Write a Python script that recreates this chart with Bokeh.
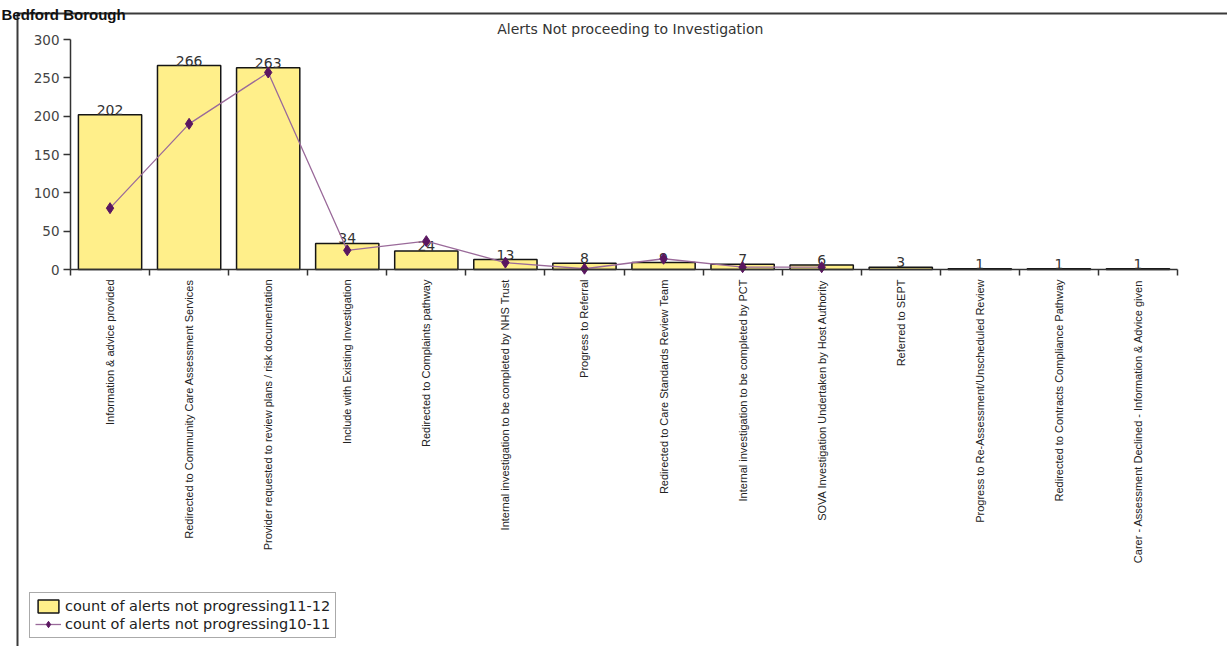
from math import pi
from bokeh.plotting import figure
from bokeh.models import Range1d, FixedTicker, Legend, LegendItem, Label, BoxAnnotation
from bokeh.core.properties import value
from bokeh.embed import file_html
from bokeh.resources import INLINE

categories = [
    "Information & advice provided",
    "Redirected to Community Care Assessment Services",
    "Provider requested to review plans / risk documentation",
    "Include with Existing Investigation",
    "Redirected to Complaints pathway",
    "Internal investigation to be completed by NHS Trust",
    "Progress to Referral",
    "Redirected to Care Standards Review Team",
    "Internal investigation to be completed by PCT",
    "SOVA Investigation Undertaken by Host Authority",
    "Referred to SEPT",
    "Progress to Re-Assessment/Unscheduled Review",
    "Redirected to Contracts Compliance Pathway",
    "Carer - Assessment Declined - Information & Advice given",
]
alerts_11_12 = [202, 266, 263, 34, 24, 13, 8, 9, 7, 6, 3, 1, 1, 1]
alerts_10_11 = [80, 190, 257, 25, 37, 9, 1, 14, 3, 3]
y_ticks = [0, 50, 100, 150, 200, 250, 300]
page_heading = "Bedford Borough"
chart_title = "Alerts Not proceeding to Investigation"
series_names = ["count of alerts not progressing11-12", "count of alerts not progressing10-11"]

n = len(categories)
xs = list(range(n))
xs_line = xs[:len(alerts_10_11)]

# canvas geometry (pixels) -> the frame covers the whole canvas, axes sit at fixed data locations
W, H = 1227, 646
plot_left, plot_right = 70, 1177      # pixel x of first/last category boundary
plot_top, plot_bottom = 39, 269       # pixel y of 300 / 0
ymax = y_ticks[-1]
px_x = (plot_right - plot_left) / n
px_y = (plot_bottom - plot_top) / ymax
x_start = -0.5 - plot_left / px_x
x_end = n - 0.5 + (W - plot_right) / px_x
y_end = ymax + plot_top / px_y
y_start = -(H - plot_bottom) / px_y

WIDE = "DejaVu Sans"

p = figure(width=W, height=H, output_backend="svg", toolbar_location=None,
           x_range=Range1d(x_start, x_end), y_range=Range1d(y_start, y_end),
           min_border=0)
p.xgrid.visible = False
p.ygrid.visible = False
p.outline_line_color = None
p.background_fill_color = "white"
p.border_fill_color = "white"

# frame of the embedded chart object (only its left and top edges are in view)
p.add_layout(BoxAnnotation(left=x_start + 17 / px_x, top=y_end - 13 / px_y,
                           right=x_end + 5, bottom=y_start - 50,
                           fill_alpha=0, line_color="#3a3a3a", line_alpha=1, line_width=2))

# page heading above the chart object
p.add_layout(Label(x=x_start, y=y_end, x_offset=1, y_offset=-14, text=page_heading,
                   text_align="left", text_baseline="alphabetic", text_font="Liberation Sans",
                   text_font_style="bold", text_font_size="15px", text_color="#111111"))

# y axis
ya = p.yaxis[0]
ya.fixed_location = -0.5
ya.bounds = (0, ymax)
ya.ticker = FixedTicker(ticks=y_ticks)
ya.major_tick_out = 7
ya.major_tick_in = 0
ya.minor_tick_out = 0
ya.minor_tick_in = 0
ya.axis_line_color = "#333333"
ya.axis_line_width = 1.5
ya.major_tick_line_color = "#333333"
ya.major_tick_line_width = 1.5
ya.major_label_text_font = WIDE
ya.major_label_text_font_size = "13.5px"
ya.major_label_text_color = "#444444"
ya.major_label_standoff = 4

# x axis
xa = p.xaxis[0]
xa.fixed_location = 0
xa.bounds = (-0.5, n - 0.5)
xa.ticker = FixedTicker(ticks=xs, minor_ticks=[i - 0.5 for i in range(n + 1)])
xa.major_label_overrides = {i: c for i, c in zip(xs, categories)}
xa.major_tick_out = 0
xa.major_tick_in = 0
xa.minor_tick_out = 6
xa.minor_tick_in = 0
xa.minor_tick_line_color = "#333333"
xa.minor_tick_line_width = 1.5
xa.axis_line_color = "#333333"
xa.axis_line_width = 1.5
xa.major_label_orientation = pi / 2
xa.major_label_text_font = "Liberation Sans"
xa.major_label_text_font_size = "11px"
xa.major_label_text_color = "#222222"
xa.major_label_standoff = 4

bars = p.vbar(x=xs, top=alerts_11_12, width=0.8, fill_color="#FFEF8A",
              line_color="#151515", line_width=1.5)
p.text(x=xs, y=alerts_11_12, text=[str(v) for v in alerts_11_12],
       text_align="center", text_baseline="bottom", text_font=value(WIDE),
       text_font_size="14px", text_color="#333333")

ln = p.line(x=xs_line, y=alerts_10_11, line_color="#9A6A9A", line_width=1.3)
sc = p.scatter(x=xs_line, y=alerts_10_11, marker="diamond", size=11,
               fill_color="#5A1660", line_color="#5A1660")

p.add_layout(Label(x=6.58, y=ymax, y_offset=3, text=chart_title, text_align="center",
                   text_baseline="bottom", text_font=WIDE,
                   text_font_size="14px", text_color="#333333"))

legend = Legend(items=[LegendItem(label=series_names[0], renderers=[bars]),
                       LegendItem(label=series_names[1], renderers=[ln, sc])],
                location=(29, 8), orientation="vertical",
                label_text_font=WIDE, label_text_font_size="14.5px",
                label_text_color="#222222", glyph_width=26, glyph_height=16,
                label_standoff=4, padding=5, spacing=2, margin=0,
                border_line_color="#555555", border_line_width=1.5,
                background_fill_alpha=1)
p.add_layout(legend)

open("out.html", "w").write(file_html(p, INLINE))
